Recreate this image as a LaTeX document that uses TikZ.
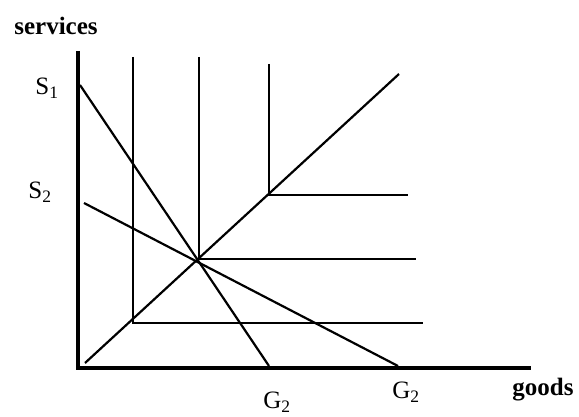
\documentclass[tikz,border=0pt]{standalone}
\usepackage{fontspec}
\setmainfont{Liberation Serif}
\usepackage{tikz}
\usetikzlibrary{positioning}

\begin{document}
\begin{tikzpicture}[
  x=1pt, y=-1pt,
  lbl/.style={font=\fontsize{25}{29}\selectfont, inner sep=0pt},
  ttl/.style={lbl, font=\fontsize{25}{29}\selectfont\bfseries},
  axisline/.style={line width=3.2pt},
  budget/.style={line width=2.2pt},
  iso/.style={line width=1.6pt},
]
\useasboundingbox (0,0) rectangle (579,417);
% axes
\coordinate (O) at (78,368);
\coordinate (ytop) at (78,51);
\coordinate (xend) at (531,368);
\draw[axisline] (ytop) -- (O) -- (xend);
% budget lines
\coordinate (s1) at (80,85);
\coordinate (g1) at (269,366);
\coordinate (s2) at (84,203);
\coordinate (g2) at (398,366);
\draw[budget] (s1) -- (g1);
\draw[budget] (s2) -- (g2);
% expansion path
\coordinate (p0) at (85,363);
\coordinate (p1) at (399,74);
\draw[budget] (p0) -- (p1);
% L-shaped indifference curves
\coordinate (c1) at (133,323);
\coordinate (c2) at (199,259);
\coordinate (c3) at (269,195);
\draw[iso] (133,57) -- (c1) -- (423,323);
\draw[iso] (199,57) -- (c2) -- (416,259);
\draw[iso] (269,64) -- (c3) -- (408,195);
% labels
\node[ttl] (services) at (56,26) {services};
\node[ttl] (goods) at (543,390) {goods};
\node[lbl] (S1) at (47,88) {S\textsubscript{1}};
\node[lbl] (S2) at (40,192) {S\textsubscript{2}};
\node[lbl] (G1) at (277,402) {G\textsubscript{2}};
\node[lbl] (G2) at (406,392) {G\textsubscript{2}};
\end{tikzpicture}
\end{document}
